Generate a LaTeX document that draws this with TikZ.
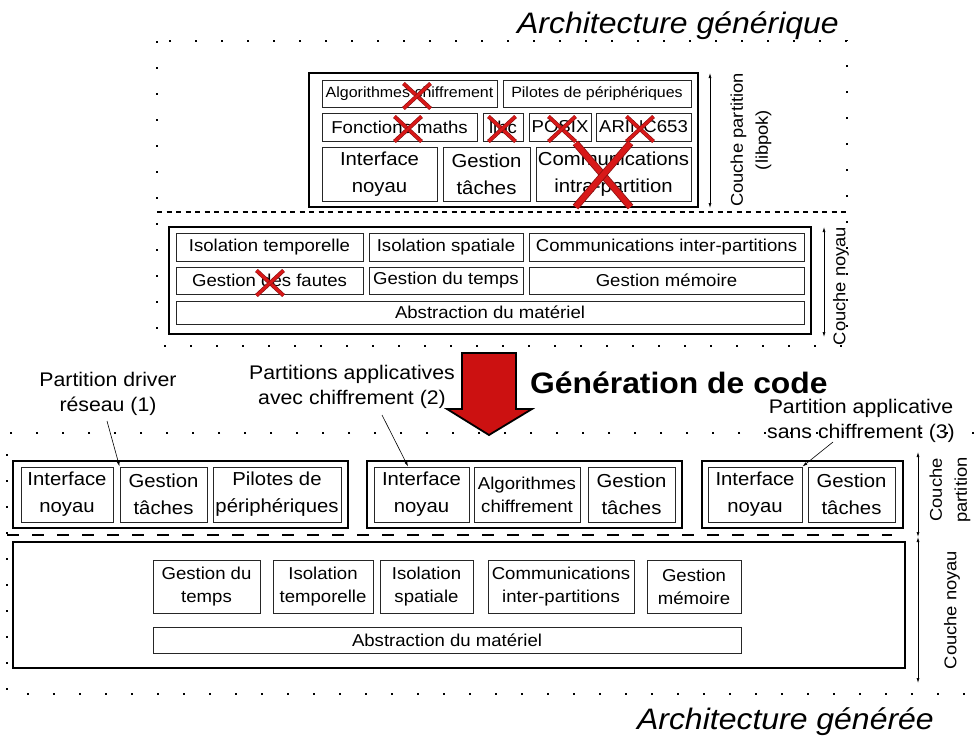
\documentclass[tikz,border=0pt]{standalone}
\usepackage{fontspec}
\setmainfont{Liberation Sans}[FakeStretch=1.08]
\usetikzlibrary{arrows.meta,calc}
\definecolor{arrowred}{HTML}{CC1111}
\definecolor{xred}{HTML}{D81818}
\definecolor{xedge}{HTML}{8A1010}
% #1 style, #2 name, #3 x1, #4 y1, #5 x2, #6 y2, #7 text
\newcommand\mkcell[7]{%
  \node[#1,minimum width={(#5-#3)*1pt},minimum height={(#6-#4)*1pt}] (#2) at ({(#3+#5)/2},{(#4+#6)/2}) {#7};}
\newcommand\xcross[5]{% style, cx, cy, half-w, half-h
  \draw[#1] ({#2-#4},{#3-#5}) -- ({#2+#4},{#3+#5});
  \draw[#1] ({#2+#4},{#3-#5}) -- ({#2-#4},{#3+#5});}
\begin{document}
\begin{tikzpicture}[x=1pt,y=-1pt,
  cell/.style={draw=black!85,line width=0.9pt,inner sep=0pt,align=center},
  outer/.style={draw=black,line width=2.2pt,inner sep=0pt},
  fS/.style={cell,font=\fontsize{14.8}{17}\selectfont},
  fM/.style={cell,font=\fontsize{17.2}{23}\selectfont},
  fL/.style={cell,font=\fontsize{18.8}{27}\selectfont},
  flab/.style={font=\fontsize{19.7}{25}\selectfont,align=center,inner sep=0pt},
  fside/.style={font=\fontsize{17}{25}\selectfont,align=center,inner sep=0pt,rotate=90},
  title/.style={font=\fontsize{29.6}{34}\selectfont\itshape,inner sep=0pt},
  gen/.style={font=\fontsize{29.5}{34}\selectfont\bfseries,inner sep=0pt},
  dotframe/.style={line width=1.6pt,dash pattern=on 1.6pt off 24.4pt},
  sdash/.style={line width=1.2pt,dash pattern=on 5pt off 4.5pt},
  ldash/.style={line width=1.3pt,dash pattern=on 12pt off 13pt},
  pointer/.style={-{Latex[length=5pt,width=3pt]},line width=0.6pt},
  layer/.style={{Latex[length=5pt,width=3pt]}-{Latex[length=5pt,width=3pt]},line width=0.7pt},
  xmark/.style={draw=xedge,line width=0.6pt,double=xred,double distance=2.8pt},
  bigx/.style={draw=xedge,line width=0.8pt,double=xred,double distance=5.5pt},
]
\useasboundingbox (0,0) rectangle (979,736);

% ---------- generic architecture ----------
\node[title,anchor=base east] (t1) at (839,33) {Architecture générique};
\draw[dotframe] (157,41) rectangle (847,346);

\mkcell{outer}{part}{309}{73}{698}{207}{}
\mkcell{fS}{a1}{322}{80}{497}{107}{Algorithmes chiffrement}
\mkcell{fS}{a2}{503}{80}{691}{107}{Pilotes de périphériques}
\mkcell{fM}{b1}{322}{113}{477}{141}{Fonctions maths}
\mkcell{fM}{b2}{483}{113}{523}{141}{libc}
\mkcell{fM}{b3}{529}{113}{591}{141}{POSIX}
\mkcell{fM}{b4}{596}{113}{691}{141}{ARINC653}
\mkcell{fL}{c1}{322}{147}{437}{201}{Interface\\noyau}
\mkcell{fL}{c2}{443}{147}{530}{201}{Gestion\\tâches}
\mkcell{fL}{c3}{536}{147}{691}{201}{Communications\\intra-partition}

\coordinate (pt) at (710,73);
\coordinate (pb) at (710,208);
\draw[layer] (pt) -- (pb);
\node[fside] (lp) at (751,140) {Couche partition\\(libpok)};

\draw[sdash] (157,212) -- (847,212);

\mkcell{outer}{kern}{169}{227}{811}{334}{}
\mkcell{fM}{k1}{176}{233}{363}{261}{Isolation temporelle}
\mkcell{fM}{k2}{369}{233}{523}{261}{Isolation spatiale}
\mkcell{fM}{k3}{529}{233}{804}{261}{Communications inter-partitions}
\mkcell{fM}{k4}{176}{267}{363}{294}{Gestion des fautes}
\mkcell{fM}{k5}{369}{267}{523}{294}{Gestion du temps}
\mkcell{fM}{k6}{529}{267}{804}{294}{Gestion mémoire}
\mkcell{fM}{k7}{176}{301}{804}{324}{Abstraction du matériel}

\coordinate (nt) at (824,227);
\coordinate (nb) at (824,337);
\draw[layer] (nt) -- (nb);
\node[fside] (ln) at (841,286) {Couche noyau};

% crosses
\xcross{xmark}{417}{96}{13.5}{12.5}
\xcross{xmark}{408}{129}{13.5}{12.5}
\xcross{xmark}{502}{129}{13.5}{12.5}
\xcross{xmark}{562}{129}{13.5}{12.5}
\xcross{xmark}{640}{129}{13.5}{12.5}
\xcross{xmark}{270}{283}{13.5}{12.5}
\xcross{bigx}{603}{175}{27.5}{32}

% ---------- code generation arrow ----------
\draw[fill=arrowred,line width=1.8pt,line join=miter]
  (462,353) -- (516,353) -- (516,409) -- (532,409) -- (489,435) -- (447,409) -- (462,409) -- cycle;
\node[gen,anchor=base west] (gen) at (530,393) {Génération de code};

% ---------- generated architecture ----------
\node[flab] (l1) at (108,394) {Partition driver\\réseau (1)};
\node[flab] (l2) at (352,387) {Partitions applicatives\\avec chiffrement (2)};
\node[flab] (l3) at (861,421) {Partition applicative\\sans chiffrement (3)};

\draw[dotframe] (974,433) -- (7,433) -- (7,694) -- (974,694);

\mkcell{outer}{p1}{13}{461}{348}{528}{}
\mkcell{fL}{p1a}{21}{467}{113}{522}{Interface\\noyau}
\mkcell{fL}{p1b}{120}{467}{207}{522}{Gestion\\tâches}
\mkcell{fL}{p1c}{213}{467}{341}{522}{Pilotes de\\périphériques}

\mkcell{outer}{p2}{367}{461}{682}{528}{}
\mkcell{fL}{p2a}{374}{467}{469}{522}{Interface\\noyau}
\mkcell{fM}{p2b}{474}{467}{580}{522}{Algorithmes\\chiffrement}
\mkcell{fL}{p2c}{588}{467}{675}{522}{Gestion\\tâches}

\mkcell{outer}{p3}{702}{461}{903}{528}{}
\mkcell{fL}{p3a}{708}{467}{802}{522}{Interface\\noyau}
\mkcell{fL}{p3b}{808}{467}{895}{522}{Gestion\\tâches}

\draw[ldash] (7,535) -- (892,535);

\mkcell{outer}{kb}{13}{542}{905}{668}{}
\mkcell{fM}{g1}{153}{560}{260}{613}{Gestion du\\temps}
\mkcell{fM}{g2}{273}{560}{373}{613}{Isolation\\temporelle}
\mkcell{fM}{g3}{380}{560}{473}{613}{Isolation\\spatiale}
\mkcell{fM}{g4}{488}{560}{634}{613}{Communications\\inter-partitions}
\mkcell{fM}{g5}{647}{560}{741}{613}{Gestion\\mémoire}
\mkcell{fM}{g6}{153}{627}{741}{653}{Abstraction du matériel}

\coordinate (bt) at (918,452);
\coordinate (bm) at (918,537);
\coordinate (bb) at (918,683);
\draw[layer] (bt) -- (bm);
\draw[layer] (bm) -- (bb);
\node[fside] (lbp) at (950,490) {Couche\\partition};
\node[fside] (lbn) at (952,610) {Couche noyau};

\node[title,anchor=base east] (t2) at (934,729) {Architecture générée};

% pointers
\coordinate (s1) at (107,421);
\coordinate (s2) at (382,415);
\coordinate (s3) at (833,442);
\draw[pointer] (s1) -- (p1b.north west);
\draw[pointer] (s2) -- ($(p2a.north west)!0.36!(p2a.north east)$);
\draw[pointer] (s3) -- (p3a.north east);
\end{tikzpicture}
\end{document}
